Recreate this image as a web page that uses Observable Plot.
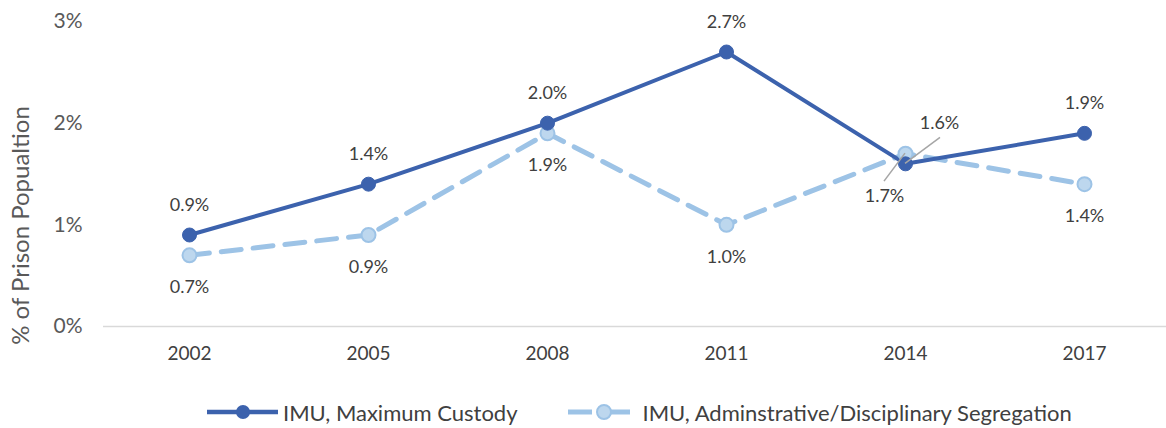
<!DOCTYPE html>
<html>
<head>
<meta charset="utf-8">
<script src="https://cdn.jsdelivr.net/npm/d3@7"></script>
<script src="https://cdn.jsdelivr.net/npm/@observablehq/plot@0.6"></script>
<style>
  html, body { margin: 0; padding: 0; background: #fff; }
  body { width: 1166px; height: 428px; overflow: hidden; font-family: Lato, "Open Sans", sans-serif; }
  #chart svg { display: block; }
  #legend { display: flex; align-items: center; height: 54px; padding-left: 207px; font-size: 22px; color: #404040; }
  .item { display: flex; align-items: center; }
  .item svg { margin-right: 5px; }
</style>
</head>
<body>
<div id="chart"></div>
<div id="legend"></div>
<script>
const years = ["2002", "2005", "2008", "2011", "2014", "2017"];
const maxCustody = [0.9, 1.4, 2.0, 2.7, 1.6, 1.9];
const segregation = [0.7, 0.9, 1.9, 1.0, 1.7, 1.4];
const seriesNames = ["IMU, Maximum Custody", "IMU, Adminstrative/Disciplinary Segregation"];
const yTicks = [0, 1, 2, 3];
const yTitle = "% of Prison Popualtion";

const darkBlue = "#3C62AD";
const lightLine = "#9DC3E6";
const lightFill = "#BDD7EE";
const textColor = "#404040";

const dMax = years.map((y, i) => ({year: y, value: maxCustody[i]}));
const dSeg = years.map((y, i) => ({year: y, value: segregation[i]}));
const fmt = v => v.toFixed(1) + "%";
const special = "2014";
const NS = "http://www.w3.org/2000/svg";

const leader = (xv, yv, dx1, dy1) => (index, scales) => {
  const x = scales.x(xv), y = scales.y(yv);
  const l = document.createElementNS(NS, "line");
  l.setAttribute("x1", x); l.setAttribute("y1", y);
  l.setAttribute("x2", x + dx1); l.setAttribute("y2", y + dy1);
  l.setAttribute("stroke", "#A6A6A6"); l.setAttribute("stroke-width", 1.5);
  return l;
};

const yTitleMark = (index, scales, values, dims) => {
  const t = document.createElementNS(NS, "text");
  const cx = dims.marginLeft - 80;
  const cy = (dims.marginTop + dims.height - dims.marginBottom) / 2 + 52;
  t.setAttribute("transform", `translate(${cx},${cy}) rotate(-90)`);
  t.setAttribute("text-anchor", "middle");
  t.setAttribute("dominant-baseline", "middle");
  t.setAttribute("font-size", 24);
  t.setAttribute("fill", "#595959");
  t.textContent = yTitle;
  return t;
};

const chart = Plot.plot({
  width: 1166,
  height: 385,
  marginLeft: 103,
  marginRight: 0,
  marginTop: 21,
  marginBottom: 59,
  style: {fontFamily: "Lato, 'Open Sans', sans-serif", color: textColor, fontSize: "18px", background: "#fff"},
  x: {type: "point", domain: years, range: [188, 1085], padding: 0},
  y: {domain: [0, 3]},
  marks: [
    Plot.ruleY([0], {stroke: "#D9D9D9", strokeWidth: 1.5}),
    Plot.axisY(yTicks, {tickSize: 0, tickPadding: 21, tickFormat: d => d + "%", fontSize: 21, fill: "#595959", label: null}),
    yTitleMark,
    Plot.axisX(years, {tickSize: 0, tickPadding: 20, fontSize: 19, fill: "#404040", label: null}),
    Plot.line(dSeg, {x: "year", y: "value", stroke: lightLine, strokeWidth: 5, strokeDasharray: "20,12"}),
    Plot.line(dMax, {x: "year", y: "value", stroke: darkBlue, strokeWidth: 4}),
    Plot.dot(dSeg, {x: "year", y: "value", r: 7, fill: lightFill, stroke: lightLine, strokeWidth: 2}),
    Plot.dot(dMax, {x: "year", y: "value", r: 7, fill: darkBlue, stroke: darkBlue, strokeWidth: 1}),
    leader(special, maxCustody[4], 35, -26),
    leader(special, segregation[4], -21, 28),
    Plot.text(dMax.filter(d => d.year !== special), {x: "year", y: "value", text: d => fmt(d.value), dy: -30, fontSize: 18, fill: textColor}),
    Plot.text(dSeg.filter(d => d.year !== special), {x: "year", y: "value", text: d => fmt(d.value), dy: 32, fontSize: 18, fill: textColor}),
    Plot.text(dMax.filter(d => d.year === special), {x: "year", y: "value", text: d => fmt(d.value), dx: 34, dy: -41, fontSize: 18, fill: textColor}),
    Plot.text(dSeg.filter(d => d.year === special), {x: "year", y: "value", text: d => fmt(d.value), dx: -21, dy: 43, fontSize: 18, fill: textColor})
  ]
});
document.getElementById("chart").appendChild(chart);

const legend = document.getElementById("legend");
const swatches = [
  `<svg width="71" height="18"><line x1="0" y1="9" x2="71" y2="9" stroke="${darkBlue}" stroke-width="4.5"/><circle cx="36" cy="9" r="7" fill="${darkBlue}"/></svg>`,
  `<svg width="62" height="18" style="margin-right:13px"><line x1="0" y1="9" x2="24" y2="9" stroke="${lightLine}" stroke-width="5"/><line x1="40" y1="9" x2="62" y2="9" stroke="${lightLine}" stroke-width="5"/><circle cx="36" cy="9" r="7" fill="${lightFill}" stroke="${lightLine}" stroke-width="2"/></svg>`
];
seriesNames.forEach((n, i) => {
  const el = document.createElement("div");
  el.className = "item";
  el.innerHTML = swatches[i] + `<span>${n}</span>`;
  if (i === 0) el.style.marginRight = "50px";
  legend.appendChild(el);
});
</script>
</body>
</html>
